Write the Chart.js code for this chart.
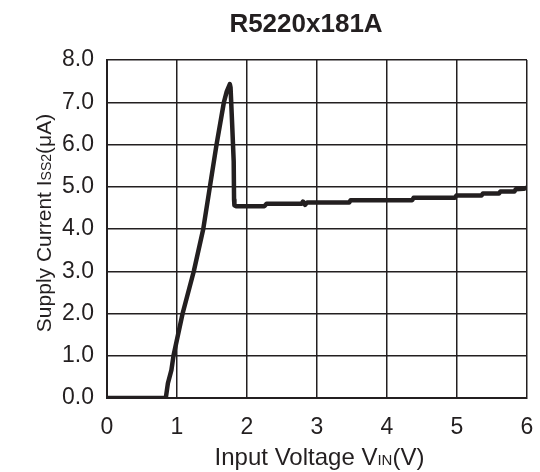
<!DOCTYPE html>
<html>
<head>
<meta charset="utf-8">
<script src="https://cdn.jsdelivr.net/npm/chart.js@4/dist/chart.umd.min.js"></script>
<style>
html,body{margin:0;padding:0;background:#fff;}
#wrap{width:540px;height:472px;position:relative;}
</style>
</head>
<body>
<div id="wrap"><canvas id="c" width="540" height="472"></canvas></div>
<script>
const chartTitle = "R5220x181A";
const vin = [0, 0.84, 0.87, 0.92, 0.95, 1.08, 1.24, 1.375, 1.47, 1.565, 1.67, 1.71, 1.755, 1.765, 1.79, 1.81, 1.815, 1.82, 1.84, 2.25, 2.28, 2.78, 2.80, 2.83, 2.86, 3.46, 3.48, 4.36, 4.38, 4.97, 4.99, 5.35, 5.37, 5.60, 5.62, 5.82, 5.84, 5.95, 6.0];
const iss2 = [0, 0, 0.35, 0.66, 1.0, 2.0, 3.0, 4.0, 5.0, 6.0, 7.0, 7.25, 7.43, 7.35, 6.4, 5.6, 4.7, 4.56, 4.54, 4.54, 4.60, 4.60, 4.65, 4.57, 4.63, 4.63, 4.68, 4.68, 4.74, 4.74, 4.79, 4.79, 4.84, 4.84, 4.89, 4.89, 4.94, 4.95, 4.98];
const xTicks = [0, 1, 2, 3, 4, 5, 6];
const yTicks = [0, 1, 2, 3, 4, 5, 6, 7, 8];

const FONT = "'Liberation Sans', Arial, sans-serif";

const texts = {
  id: 'texts',
  afterDraw(chart) {
    const ctx = chart.ctx;
    function drawParts(parts, cx, baseY) {
      let total = 0;
      parts.forEach(p => { ctx.font = p[1] + 'px ' + FONT; total += ctx.measureText(p[0]).width; });
      let x = cx - total / 2;
      parts.forEach(p => {
        ctx.font = p[1] + 'px ' + FONT;
        ctx.fillText(p[0], x, baseY);
        x += ctx.measureText(p[0]).width;
      });
    }
    ctx.save();
    ctx.fillStyle = '#231f20';
    ctx.textBaseline = 'alphabetic';
    ctx.textAlign = 'left';
    drawParts([[chartTitle, 'bold 26']], 306, 32);
    drawParts([["Input Voltage V", 24], ["IN", 15], ["(V)", 24]], 319.5, 465);
    ctx.translate(51, 223);
    ctx.rotate(-Math.PI / 2);
    drawParts([["Supply Current I", 21], ["SS2", 14], ["(\u03bcA)", 21]], 0, 0);
    ctx.restore();
  }
};

new Chart(document.getElementById('c'), {
  type: 'line',
  data: {
    datasets: [{
      data: vin.map((v, i) => ({x: v, y: iss2[i]})),
      borderColor: '#231f20',
      borderWidth: 4.5,
      pointRadius: 0,
      tension: 0,
      fill: false,
      borderJoinStyle: 'round',
      borderCapStyle: 'round'
    }]
  },
  options: {
    responsive: false,
    animation: false,
    layout: {padding: {top: 60, right: 13, left: 0, bottom: 0}},
    plugins: {
      legend: {display: false},
      tooltip: {enabled: false},
      title: {display: false}
    },
    scales: {
      x: {
        type: 'linear',
        min: 0, max: 6,
        afterBuildTicks: s => { s.ticks = xTicks.map(v => ({value: v})); },
        afterFit: s => { s.height = 74; s.paddingLeft = 0; s.paddingRight = 0; },
        grid: {color: '#231f20', lineWidth: 1.5, drawTicks: false},
        border: {color: '#231f20', width: 2},
        ticks: {color: '#231f20', font: {family: FONT, size: 23}, padding: 16, maxRotation: 0,
                callback: v => String(v)}
      },
      y: {
        min: 0, max: 8,
        afterBuildTicks: s => { s.ticks = yTicks.map(v => ({value: v})); },
        afterFit: s => { s.width = 107; s.paddingTop = 0; s.paddingBottom = 0; },
        grid: {color: '#231f20', lineWidth: 1.5, drawTicks: false},
        border: {color: '#231f20', width: 2},
        ticks: {color: '#231f20', font: {family: FONT, size: 23}, padding: 13,
                callback: v => Number(v).toFixed(1)}
      }
    }
  },
  plugins: [texts]
});
</script>
</body>
</html>
